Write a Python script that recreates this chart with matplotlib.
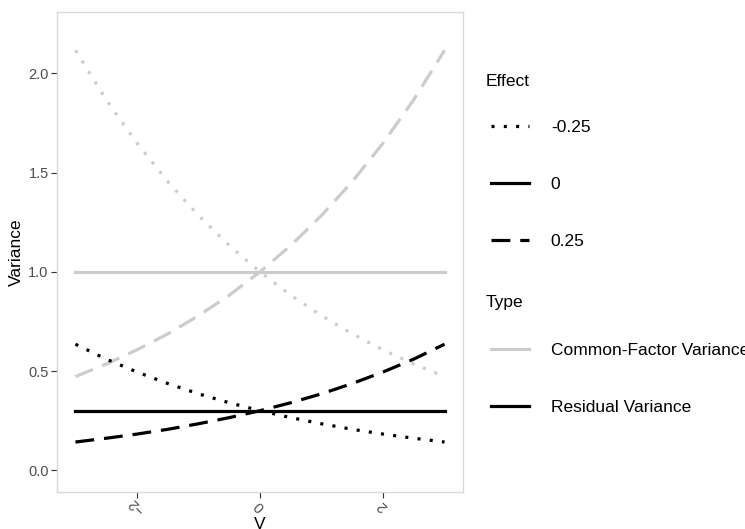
import matplotlib.pyplot as plt
from matplotlib.lines import Line2D

plt.rcParams['font.family'] = ['Liberation Sans', 'DejaVu Sans']

# values
v = [-3.0, -2.5, -2.0, -1.5, -1.0, -0.5, 0.0, 0.5, 1.0, 1.5, 2.0, 2.5, 3.0]

common_pos = [0.472, 0.535, 0.607, 0.687, 0.779, 0.882, 1.0, 1.133, 1.284, 1.455, 1.649, 1.868, 2.117]
common_zero = [1.0] * 13
common_neg = [2.117, 1.868, 1.649, 1.455, 1.284, 1.133, 1.0, 0.882, 0.779, 0.687, 0.607, 0.535, 0.472]

resid_pos = [0.142, 0.161, 0.182, 0.206, 0.234, 0.265, 0.3, 0.340, 0.385, 0.437, 0.495, 0.560, 0.635]
resid_zero = [0.3] * 13
resid_neg = [0.635, 0.560, 0.495, 0.437, 0.385, 0.340, 0.3, 0.265, 0.234, 0.206, 0.182, 0.161, 0.142]

effect_labels = ["-0.25", "0", "0.25"]
type_labels = ["Common-Factor Variance", "Residual Variance"]

grey = "#cccccc"
lw = 2.3
dotted = (0, (0.95, 2.9))
dashed = (0, (5.9, 3.1))

fig = plt.figure(figsize=(7.45, 5.29), dpi=100)
ax = fig.add_axes([57 / 745, 37 / 529, 406 / 745, 480 / 529])

styles = [dotted, "solid", dashed]
for ys, ls in zip([common_neg, common_zero, common_pos], styles):
  ax.plot(v, ys, color=grey, lw=lw, linestyle=ls)
for ys, ls in zip([resid_neg, resid_zero, resid_pos], styles):
  ax.plot(v, ys, color="black", lw=lw, linestyle=ls)

ax.set_xlim(-3.3, 3.3)
ax.set_ylim(-0.11, 2.31)
ax.set_xticks([-2, 0, 2])
ax.set_yticks([0.0, 0.5, 1.0, 1.5, 2.0])
ax.set_yticklabels(["0.0", "0.5", "1.0", "1.5", "2.0"])
for lbl in ax.get_xticklabels():
  lbl.set_rotation(135)
  lbl.set_ha("center")
  lbl.set_va("center")
ax.tick_params(axis="both", colors="#333333", labelcolor="#4d4d4d", labelsize=10.5, length=4, width=0.8)
ax.tick_params(axis="y", pad=2)
ax.tick_params(axis="x", pad=6)
for s in ax.spines.values():
  s.set_color("#d9d9d9")
  s.set_linewidth(1.0)

ax.set_xlabel("V", fontsize=12.5, labelpad=0)
ax.set_ylabel("Variance", fontsize=12.5, labelpad=3)

# legends: titles as plain text, entries as two legends
fig.text(486 / 745, 1 - 82 / 529, "Effect", fontsize=12.5, va="center", ha="left")
fig.text(486 / 745, 1 - 302 / 529, "Type", fontsize=12.5, va="center", ha="left")

h1 = [Line2D([], [], color="black", lw=lw, linestyle=ls) for ls in styles]
h2 = [Line2D([], [], color=grey, lw=lw), Line2D([], [], color="black", lw=lw)]
leg_kw = dict(loc="upper left", frameon=False, fontsize=12.5, labelspacing=2.4,
              handlelength=2.2, handletextpad=1.25, borderaxespad=0)
fig.legend(h1, effect_labels, bbox_to_anchor=(484 / 745, 1 - 113 / 529), **leg_kw)
fig.legend(h2, type_labels, bbox_to_anchor=(484 / 745, 1 - 336 / 529), **leg_kw)

fig.savefig("out.png", dpi=100)
